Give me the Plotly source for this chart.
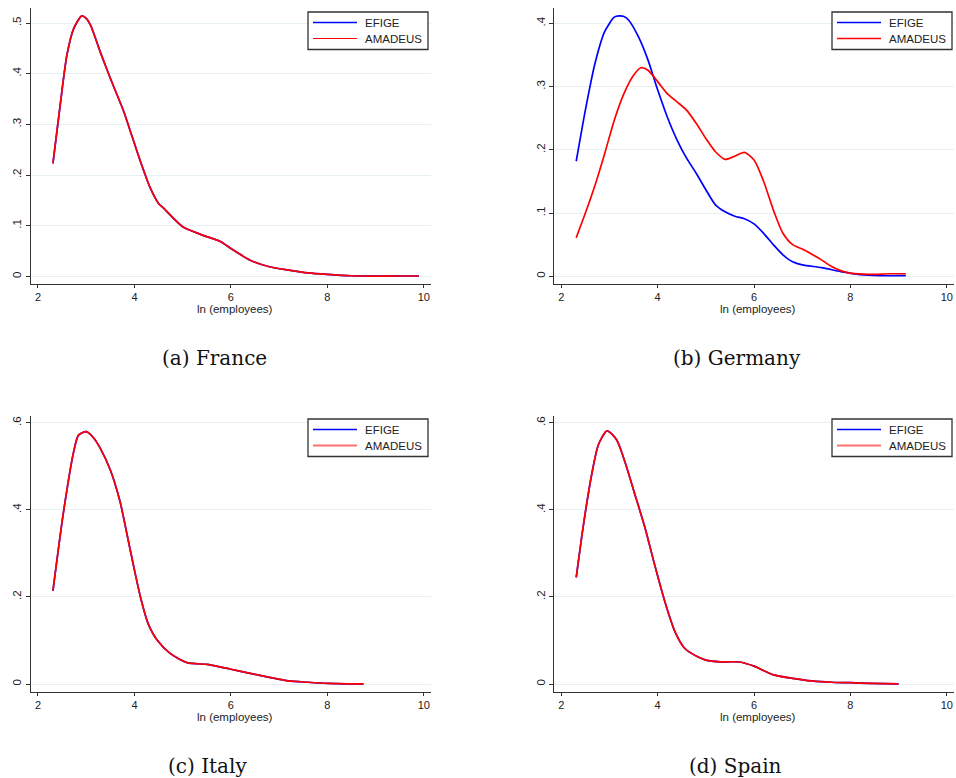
import plotly.graph_objects as go

# ---------------- data ----------------
fr_x = [2.31, 2.46, 2.6, 2.74, 2.91, 3.0, 3.09, 3.29, 3.5, 3.78, 3.91, 4.12, 4.33, 4.5, 4.6, 5.0, 5.4, 5.8, 6.0, 6.4, 6.8, 7.2, 7.6, 8.0, 8.5, 9.0, 9.5, 9.9]
fr_efige = [0.223, 0.338, 0.437, 0.489, 0.514, 0.509, 0.496, 0.443, 0.391, 0.325, 0.288, 0.228, 0.174, 0.144, 0.135, 0.098, 0.082, 0.068, 0.055, 0.032, 0.019, 0.0125, 0.007, 0.004, 0.0013, 0.0007, 0.0008, 0.0008]
fr_amadeus = [0.223, 0.338, 0.437, 0.489, 0.514, 0.509, 0.496, 0.443, 0.391, 0.325, 0.288, 0.228, 0.174, 0.144, 0.135, 0.098, 0.082, 0.068, 0.055, 0.032, 0.019, 0.0125, 0.007, 0.004, 0.0013, 0.0007, 0.0008, 0.0008]

de_x_efige = [2.31, 2.5, 2.7, 2.9, 3.1, 3.2, 3.3, 3.4, 3.6, 3.8, 4.0, 4.2, 4.4, 4.6, 4.8, 5.0, 5.2, 5.4, 5.6, 5.8, 6.0, 6.2, 6.4, 6.6, 6.8, 7.0, 7.4, 7.8, 8.2, 8.6, 9.15]
de_efige = [0.182, 0.263, 0.337, 0.387, 0.41, 0.412, 0.411, 0.405, 0.379, 0.342, 0.295, 0.252, 0.216, 0.187, 0.163, 0.137, 0.113, 0.102, 0.095, 0.091, 0.083, 0.068, 0.05, 0.034, 0.023, 0.018, 0.0137, 0.0074, 0.0026, 0.001, 0.001]
de_x_amadeus = [2.31, 2.5, 2.7, 2.9, 3.1, 3.3, 3.5, 3.65, 3.8, 4.0, 4.2, 4.4, 4.6, 4.8, 5.0, 5.2, 5.4, 5.6, 5.8, 6.0, 6.2, 6.4, 6.6, 6.8, 7.0, 7.2, 7.4, 7.6, 7.8, 8.0, 8.4, 8.8, 9.15]
de_amadeus = [0.061, 0.1, 0.144, 0.194, 0.247, 0.289, 0.318, 0.33, 0.326, 0.308, 0.289, 0.276, 0.263, 0.242, 0.218, 0.197, 0.185, 0.19, 0.196, 0.184, 0.15, 0.105, 0.068, 0.05, 0.043, 0.035, 0.026, 0.016, 0.009, 0.005, 0.003, 0.004, 0.004]

it_x = [2.31, 2.53, 2.74, 2.84, 3.0, 3.15, 3.29, 3.5, 3.7, 3.85, 4.0, 4.14, 4.28, 4.47, 4.74, 5.09, 5.51, 5.75, 6.0, 6.4, 6.8, 7.2, 7.6, 8.0, 8.4, 8.75]
it_efige = [0.214, 0.396, 0.534, 0.572, 0.58, 0.566, 0.542, 0.492, 0.42, 0.342, 0.262, 0.193, 0.14, 0.101, 0.0705, 0.049, 0.045, 0.04, 0.034, 0.0245, 0.0153, 0.007, 0.004, 0.0015, 0.0003, 0.0002]
it_amadeus = [0.214, 0.396, 0.534, 0.572, 0.58, 0.566, 0.542, 0.492, 0.42, 0.342, 0.262, 0.193, 0.14, 0.101, 0.0705, 0.049, 0.045, 0.04, 0.034, 0.0245, 0.0153, 0.007, 0.004, 0.0015, 0.0003, 0.0002]

es_x = [2.31, 2.46, 2.63, 2.77, 2.95, 3.15, 3.32, 3.53, 3.74, 3.94, 4.15, 4.36, 4.57, 4.84, 5.0, 5.3, 5.7, 6.0, 6.4, 6.8, 7.2, 7.6, 8.0, 8.4, 9.0]
es_efige = [0.245, 0.366, 0.481, 0.55, 0.582, 0.561, 0.511, 0.435, 0.358, 0.273, 0.189, 0.12, 0.081, 0.062, 0.055, 0.051, 0.0506, 0.041, 0.021, 0.013, 0.007, 0.004, 0.003, 0.0015, 0.0004]
es_amadeus = [0.245, 0.366, 0.481, 0.55, 0.582, 0.561, 0.511, 0.435, 0.358, 0.273, 0.189, 0.12, 0.081, 0.062, 0.055, 0.051, 0.0506, 0.041, 0.021, 0.013, 0.007, 0.004, 0.003, 0.0015, 0.0004]

x_ticks = [2, 4, 6, 8, 10]
yticks_fr = [0, 0.1, 0.2, 0.3, 0.4, 0.5]
yticks_fr_text = ["0", ".1", ".2", ".3", ".4", ".5"]
yticks_de = [0, 0.1, 0.2, 0.3, 0.4]
yticks_de_text = ["0", ".1", ".2", ".3", ".4"]
yticks_it = [0, 0.2, 0.4, 0.6]
yticks_it_text = ["0", ".2", ".4", ".6"]
captions = ["(a) France", "(b) Germany", "(c) Italy", "(d) Spain"]
series_names = ["EFIGE", "AMADEUS"]
x_title = "ln (employees)"

# ---------------- layout geometry ----------------
W, H = 956, 778
def px(v):
    return v / W
def py(v):
    return 1 - v / H

panels = [
    dict(xl=31, xr=431, yt=8.3, yb=284, yr=[-0.015, 0.529], tv=yticks_fr, tt=yticks_fr_text,
         data=[(fr_x, fr_efige), (fr_x, fr_amadeus)], leg=(308, 12), amad_leg=("#ff0000", 1.2)),
    dict(xl=554.3, xr=954, yt=8.3, yb=284, yr=[-0.0122, 0.424], tv=yticks_de, tt=yticks_de_text,
         data=[(de_x_efige, de_efige), (de_x_amadeus, de_amadeus)], leg=(832, 12), amad_leg=("#ff0000", 1.6)),
    dict(xl=31, xr=431, yt=416, yb=691.7, yr=[-0.0177, 0.616], tv=yticks_it, tt=yticks_it_text,
         data=[(it_x, it_efige), (it_x, it_amadeus)], leg=(308, 419), amad_leg=("#ff7070", 2.0)),
    dict(xl=554.3, xr=954, yt=416, yb=691.7, yr=[-0.0177, 0.616], tv=yticks_it, tt=yticks_it_text,
         data=[(es_x, es_efige), (es_x, es_amadeus)], leg=(832, 419), amad_leg=("#ff7070", 2.0)),
]
caption_pos = [(214, 358), (737, 358), (207, 766), (735, 766)]
colors = ["#0000ff", "#ff0000"]
axis_col = "#333333"

fig = go.Figure()
annotations = []
shapes = []
layout = dict(width=W, height=H, margin=dict(l=0, r=0, t=0, b=0),
              paper_bgcolor="white", plot_bgcolor="white", showlegend=False,
              font=dict(family="Liberation Sans, Arial", size=11, color="#222"))

for i, p in enumerate(panels):
    n = "" if i == 0 else str(i + 1)
    for j, (xs, ys) in enumerate(p["data"]):
        fig.add_trace(go.Scatter(
            x=xs, y=ys, mode="lines", name=series_names[j],
            line=dict(color=colors[j], width=1.7, shape="spline", smoothing=0.7),
            xaxis="x" + n, yaxis="y" + n))
    layout["xaxis" + n] = dict(
        domain=[px(p["xl"]), px(p["xr"])], anchor="y" + n, range=[1.855, 10.15],
        tickmode="array", tickvals=x_ticks, ticktext=[str(t) for t in x_ticks],
        showgrid=False, zeroline=False, showline=True, linecolor=axis_col, linewidth=1.2,
        ticks="outside", ticklen=3, tickcolor=axis_col, tickfont=dict(size=11))
    layout["yaxis" + n] = dict(
        domain=[py(p["yb"]), py(p["yt"])], anchor="x" + n, range=p["yr"],
        tickmode="array", tickvals=p["tv"], ticktext=p["tt"], tickangle=-90,
        showgrid=True, gridcolor="#e6eff1", gridwidth=1,
        zeroline=False, showline=True, linecolor=axis_col, linewidth=1.2,
        ticks="outside", ticklen=4, tickcolor=axis_col, tickfont=dict(size=11.5))
    # x-axis title
    annotations.append(dict(
        text=x_title, x=px((p["xl"] + p["xr"]) / 2 + 4), y=py(p["yb"] + 25.5),
        xref="paper", yref="paper", xanchor="center", yanchor="middle",
        showarrow=False, font=dict(size=11.5, color="#222")))
    # legend box (drawn manually, Stata-style)
    lx, ly = p["leg"]
    shapes.append(dict(type="rect", xref="paper", yref="paper",
                       x0=px(lx), x1=px(lx + 120), y0=py(ly + 37.5), y1=py(ly),
                       line=dict(color=axis_col, width=1.3), fillcolor="white", layer="above"))
    leg_styles = [(colors[0], 1.7), p["amad_leg"]]
    for j, name in enumerate(series_names):
        yy = ly + 10.5 + 16 * j
        shapes.append(dict(type="line", xref="paper", yref="paper",
                           x0=px(lx + 5), x1=px(lx + 49), y0=py(yy), y1=py(yy),
                           line=dict(color=leg_styles[j][0], width=leg_styles[j][1]), layer="above"))
        annotations.append(dict(
            text=name, x=px(lx + 55), y=py(yy), xref="paper", yref="paper",
            xanchor="left", yanchor="middle", showarrow=False,
            font=dict(size=11.5, color="#222")))
    cx, cy = caption_pos[i]
    annotations.append(dict(
        text=captions[i], x=px(cx), y=py(cy), xref="paper", yref="paper",
        xanchor="center", yanchor="middle", showarrow=False,
        font=dict(family="DejaVu Serif", size=20, color="#111")))

layout["annotations"] = annotations
layout["shapes"] = shapes
fig.update_layout(**layout)
fig.write_html("out.html", config={"displayModeBar": False},
               post_script="document.body.style.margin='0';document.body.style.overflow='hidden';")
